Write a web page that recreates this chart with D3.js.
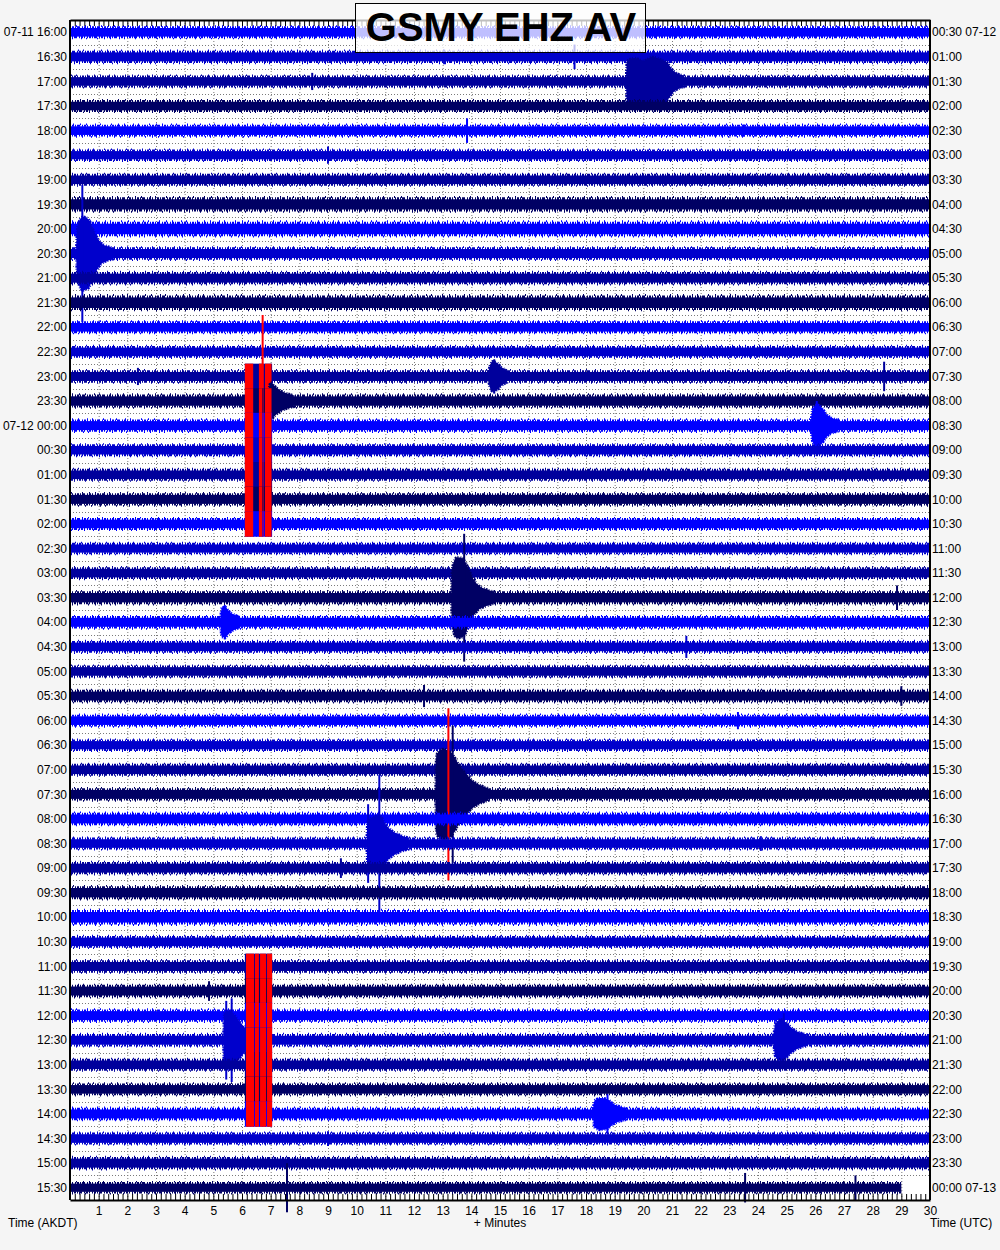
<!DOCTYPE html>
<html>
<head>
<meta charset="utf-8">
<script src="https://cdn.jsdelivr.net/npm/d3@7"></script>
<style>
  body { margin: 0; background: #f5f5f5; }
  svg { display: block; font-family: "Liberation Sans", Arial, sans-serif; }
</style>
</head>
<body>
<svg id="heli" width="1000" height="1250"></svg>
<script>
// Row labels, local time (left) and UTC (right)
const leftLabels = ["07-11 16:00","16:30","17:00","17:30","18:00","18:30","19:00","19:30","20:00","20:30","21:00","21:30",
  "22:00","22:30","23:00","23:30","07-12 00:00","00:30","01:00","01:30","02:00","02:30","03:00","03:30",
  "04:00","04:30","05:00","05:30","06:00","06:30","07:00","07:30","08:00","08:30","09:00","09:30",
  "10:00","10:30","11:00","11:30","12:00","12:30","13:00","13:30","14:00","14:30","15:00","15:30"];
const rightLabels = ["00:30 07-12","01:00","01:30","02:00","02:30","03:00","03:30","04:00","04:30","05:00","05:30","06:00",
  "06:30","07:00","07:30","08:00","08:30","09:00","09:30","10:00","10:30","11:00","11:30","12:00",
  "12:30","13:00","13:30","14:00","14:30","15:00","15:30","16:00","16:30","17:00","17:30","18:00",
  "18:30","19:00","19:30","20:00","20:30","21:00","21:30","22:00","22:30","23:00","23:30","00:00 07-13"];
const minuteLabels = [1,2,3,4,5,6,7,8,9,10,11,12,13,14,15,16,17,18,19,20,21,22,23,24,25,26,27,28,29,30];

// background noise level of each row (trace units, 100 = one row spacing)
const rowNoise = [22,23,22,22, 22,21,22,26, 27,23,23,27, 22,22,23,24, 23,22,22,23, 22,21,22,24,
  23,22,22,23, 22,21,22,23, 23,22,23,24, 27,22,23,23, 23,23,22,22, 23,22,23,21];
const lastRowEnd = 29.0; // data stops here on the last line

// event envelopes: row, [minute, half amplitude]
const events = [
  { row: 2,  pts: [[19.4,22],[19.43,85],[19.7,95],[20.0,85],[20.3,100],[20.6,90],[20.85,75],[21.0,50],[21.15,35],[21.4,24]] },
  { row: 9,  pts: [[0.22,22],[0.26,110],[0.45,150],[0.65,140],[0.8,100],[0.95,65],[1.1,42],[1.3,30],[1.5,23]] },
  { row: 14, pts: [[14.6,22],[14.65,45],[14.75,62],[14.9,55],[15.05,38],[15.25,24]] },
  { row: 15, pts: [[6.9,24],[7.0,75],[7.15,60],[7.35,42],[7.6,30],[7.8,24]] },
  { row: 16, pts: [[25.85,22],[25.9,65],[26.05,85],[26.25,70],[26.4,45],[26.6,30],[26.8,23]] },
  { row: 23, pts: [[13.3,22],[13.33,120],[13.5,165],[13.7,160],[13.9,120],[14.05,80],[14.25,50],[14.5,35],[14.8,24]] },
  { row: 24, pts: [[5.25,22],[5.3,60],[5.42,62],[5.55,45],[5.75,30],[5.9,23]] },
  { row: 31, pts: [[12.75,23],[12.78,160],[13.0,185],[13.3,170],[13.55,125],[13.8,85],[14.05,55],[14.3,38],[14.6,25]] },
  { row: 33, pts: [[10.35,22],[10.38,90],[10.6,110],[10.8,115],[11.0,80],[11.2,55],[11.45,38],[11.8,24]] },
  { row: 41, pts: [[5.35,23],[5.38,110],[5.55,120],[5.75,100],[5.95,70],[6.15,45],[6.4,26]] },
  { row: 41, pts: [[24.55,23],[24.6,65],[24.8,85],[25.0,70],[25.2,48],[25.45,32],[25.7,24]] },
  { row: 44, pts: [[18.25,23],[18.3,55],[18.5,65],[18.75,60],[18.95,42],[19.2,30],[19.4,23]] }
];

// single spikes: [row, minute, half amplitude]
const spikes = [
  [1,17.6,50],[1,13.05,30],[2,8.45,35],[4,13.85,50],[4,23.5,25],[5,9.0,35],[9,0.43,280],
  [14,2.37,35],[14,28.4,60],[14,14.8,70],[16,26.05,100],[23,13.75,260],[23,28.85,50],
  [24,5.4,70],[25,21.5,45],[27,12.35,45],[27,29.0,40],[28,23.3,35],[31,13.35,280],
  [33,10.4,160],[33,10.79,280],[33,24.1,30],[34,9.45,40],[39,4.85,40],[41,5.45,160],
  [41,5.64,170],[41,24.9,110],[44,18.75,80],[45,9.0,30],[47,7.57,100],[47,23.55,60],[47,27.4,50]
];

// clipped signal (drawn red)
const clipSpikes = [[31,13.2,350],[14,6.72,250]];
const clipLevel = 52;
const clipSpan = [6.1, 7.05];
const clipRowsA = [14,15,16,17,18,19,20];
const clipSegA = [[6.1,6.39],[6.59,6.7],[6.72,6.75],[6.8,7.03]];
const clipRowsB = [38,39,40,41,42,43,44];
const clipSegB = [[6.14,6.42],[6.45,6.59],[6.63,6.84],[6.87,7.05]];

const rowColors = ["#0000ff", "#0000cc", "#00009c", "#000064"];

const svg = d3.select("#heli");
const plotL = 70, plotR = 930, plotT = 20, plotB = 1200;
const nRows = leftLabels.length;
const rowH = (plotB - plotT) / nRows;

const x = d3.scaleLinear().domain([0, 30]).range([plotL, plotR]);
const y = d3.scaleLinear().domain([0, nRows]).range([plotT, plotB]);
const amp = d3.scaleLinear().domain([0, 100]).range([0, rowH]);
const cy = i => y(i + 0.5);

// plot background
svg.append("rect")
  .attr("x", plotL).attr("y", plotT)
  .attr("width", plotR - plotL).attr("height", plotB - plotT)
  .attr("fill", "white");

// dotted grid
const grid = svg.append("g").attr("stroke", "#7a7a7a").attr("stroke-dasharray", "1,2");
grid.selectAll(".gv")
  .data(d3.range(1, 30))
  .enter().append("line")
  .attr("x1", d => x(d) + 0.5).attr("x2", d => x(d) + 0.5)
  .attr("y1", plotT).attr("y2", plotB);
grid.selectAll(".gh")
  .data(d3.range(1, nRows))
  .enter().append("line")
  .attr("x1", plotL).attr("x2", plotR)
  .attr("y1", d => Math.round(y(d)) + 0.5).attr("y2", d => Math.round(y(d)) + 0.5);

// traces, row by row so later lines lie on top
const area = d3.area()
  .x(d => x(d[0]))
  .curve(d3.curveMonotoneX);

const traces = svg.append("g");
d3.range(nRows).forEach(i => {
  const c = rowColors[i % 4];
  const g = traces.append("g").attr("fill", c).attr("stroke", c);
  const end = i === nRows - 1 ? lastRowEnd : 30;
  const n = amp(rowNoise[i]);

  g.append("rect")
    .attr("x", x(0)).attr("y", cy(i) - n * 0.8)
    .attr("width", x(end) - x(0)).attr("height", n * 1.6)
    .attr("stroke", "none");

  // ragged fringe of the noise band
  [-1, 1].forEach(s => {
    g.append("line")
      .attr("x1", x(0)).attr("x2", x(end))
      .attr("y1", cy(i) + s * n * 0.9).attr("y2", cy(i) + s * n * 0.9)
      .attr("stroke-width", n * 0.4)
      .attr("stroke-dasharray", "1 1 2 1 1 1 3 2 1 1 2 1 1 2")
      .attr("stroke-dashoffset", i * 5 + (s > 0 ? 3 : 0));
    g.append("line")
      .attr("x1", x(0)).attr("x2", x(end))
      .attr("y1", cy(i) + s * n * 1.15).attr("y2", cy(i) + s * n * 1.15)
      .attr("stroke-width", n * 0.3)
      .attr("stroke-dasharray", "1 5 1 8 1 4 1 10 1 6")
      .attr("stroke-dashoffset", i * 7 + (s > 0 ? 4 : 0));
  });

  events.filter(e => e.row === i).forEach(e => {
    g.append("path")
      .attr("d", area.y0(d => cy(i) + amp(d[1])).y1(d => cy(i) - amp(d[1]))(e.pts))
      .attr("stroke-width", 2.5)
      .attr("stroke-dasharray", "1 1 2 1 1 2");
  });

  spikes.filter(s => s[0] === i).forEach(s => {
    g.append("line")
      .attr("x1", x(s[1])).attr("x2", x(s[1]))
      .attr("y1", cy(i) - amp(s[2])).attr("y2", cy(i) + amp(s[2]))
      .attr("stroke-width", 2);
  });

  const segs = clipRowsA.includes(i) ? clipSegA : clipRowsB.includes(i) ? clipSegB : [];
  if (segs.length) {
    g.append("rect")
      .attr("x", x(clipSpan[0])).attr("y", cy(i) - amp(clipLevel))
      .attr("width", x(clipSpan[1]) - x(clipSpan[0])).attr("height", amp(clipLevel) * 2)
      .attr("stroke", "none");
  }
  segs.forEach(sg => {
    g.append("rect")
      .attr("x", x(sg[0])).attr("y", cy(i) - amp(clipLevel))
      .attr("width", x(sg[1]) - x(sg[0])).attr("height", amp(clipLevel) * 2)
      .attr("fill", "#ff0000").attr("stroke", "none");
  });

  clipSpikes.filter(s => s[0] === i).forEach(s => {
    g.append("line")
      .attr("x1", x(s[1])).attr("x2", x(s[1]))
      .attr("y1", cy(i) - amp(s[2])).attr("y2", cy(i) + amp(s[2]))
      .attr("stroke", "#ff0000").attr("stroke-width", 2);
  });
});

// frame and tick marks
const tickVals = d3.range(0, 181).map(d => d / 6);
svg.append("g")
  .attr("transform", `translate(0, ${plotT})`)
  .call(d3.axisTop(x).tickValues(tickVals).tickSizeInner(-6).tickSizeOuter(0).tickFormat(""))
  .call(g => g.select(".domain").attr("stroke-width", 2));
svg.append("g")
  .attr("transform", `translate(0, ${plotB})`)
  .call(d3.axisBottom(x).tickValues(tickVals).tickSizeInner(-6).tickSizeOuter(0).tickPadding(6)
    .tickFormat(d => minuteLabels.includes(Math.round(d * 6) / 6) ? d : ""))
  .call(g => g.select(".domain").attr("stroke-width", 2))
  .call(g => g.selectAll("text").attr("font-size", 12).attr("font-family", "Liberation Sans, Arial, sans-serif"));
[plotL, plotR].forEach(px => {
  svg.append("line")
    .attr("x1", px).attr("x2", px).attr("y1", plotT).attr("y2", plotB)
    .attr("stroke", "black").attr("stroke-width", 2);
});

// row labels
svg.append("g").selectAll("text")
  .data(leftLabels)
  .enter().append("text")
  .attr("x", plotL - 3).attr("y", (d, i) => cy(i))
  .attr("dy", "0.35em").attr("text-anchor", "end").attr("font-size", 12)
  .text(d => d);
svg.append("g").selectAll("text")
  .data(rightLabels)
  .enter().append("text")
  .attr("x", plotR + 2).attr("y", (d, i) => cy(i))
  .attr("dy", "0.35em").attr("font-size", 12)
  .text(d => d);

// axis titles
svg.append("text").attr("x", 8).attr("y", 1227).attr("font-size", 12).text("Time (AKDT)");
svg.append("text").attr("x", 500).attr("y", 1227).attr("font-size", 12).attr("text-anchor", "middle").text("+ Minutes");
svg.append("text").attr("x", plotR).attr("y", 1227).attr("font-size", 12).text("Time (UTC)");

// station title
svg.append("rect")
  .attr("x", 355.5).attr("y", 3.5).attr("width", 290).attr("height", 49)
  .attr("fill", "white").attr("fill-opacity", 0.75)
  .attr("stroke", "black");
svg.append("text")
  .attr("x", 501).attr("y", 41)
  .attr("text-anchor", "middle").attr("font-size", 40).attr("font-weight", "bold")
  .text("GSMY EHZ AV");
</script>
</body>
</html>
